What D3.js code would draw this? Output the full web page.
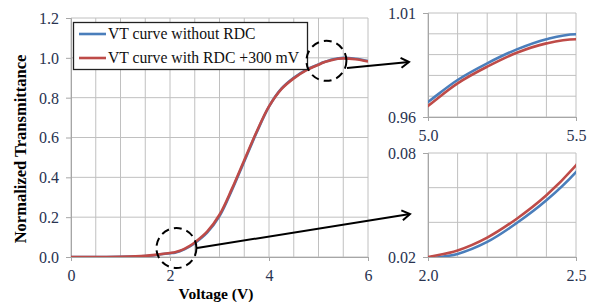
<!DOCTYPE html>
<html>
<head>
<meta charset="utf-8">
<script src="https://cdn.jsdelivr.net/npm/d3@7"></script>
<style>
  body { margin: 0; background: #fff; }
  svg { display: block; }
  .grid line { stroke: #c0c0c0; stroke-width: 1; }
</style>
</head>
<body>
<div id="chart"></div>
<script>
// values
const voltage = [0, 0.5, 1.0, 1.5, 1.75, 2.0, 2.1, 2.2, 2.3, 2.4, 2.5, 2.75, 3.0, 3.25, 3.5, 3.75, 4.0, 4.25, 4.5, 4.75, 5.0, 5.1, 5.2, 5.3, 5.4, 5.5, 5.75, 6.0]
const withoutRDC = [0, 0, 0.001, 0.005, 0.011, 0.019, 0.0218, 0.0287, 0.0396, 0.0527, 0.069, 0.122, 0.205, 0.335, 0.48, 0.625, 0.755, 0.845, 0.9, 0.94, 0.9672, 0.9778, 0.9858, 0.9925, 0.9974, 0.9998, 0.995, 0.984]
const withRDC = [0, 0, 0.001, 0.0055, 0.012, 0.02, 0.0238, 0.0312, 0.0421, 0.0556, 0.0729, 0.127, 0.212, 0.342, 0.486, 0.629, 0.756, 0.843, 0.897, 0.937, 0.9653, 0.9762, 0.9842, 0.9909, 0.9954, 0.9974, 0.993, 0.982]
const seriesNames = ['VT curve without RDC', 'VT curve with RDC +300 mV']
const seriesColors = ['#4a7ebb', '#be4b48']

const mainXTicks = [0, 2, 4, 6]
const mainYTicks = [0, 0.2, 0.4, 0.6, 0.8, 1.0, 1.2]
const topXTicks = [5.0, 5.5]
const topYTicks = [0.96, 1.01]
const botXTicks = [2.0, 2.5]
const botYTicks = [0.02, 0.08]

const width = 589
const height = 302
const serif = 'Liberation Serif'

const svg = d3.select('#chart').append('svg')
  .attr('width', width)
  .attr('height', height)

const defs = svg.append('defs')
defs.append('marker')
  .attr('id', 'head')
  .attr('viewBox', '0 0 12 12')
  .attr('refX', 10).attr('refY', 6)
  .attr('markerWidth', 12).attr('markerHeight', 12)
  .attr('markerUnits', 'userSpaceOnUse')
  .attr('orient', 'auto')
  .append('path')
  .attr('d', 'M2,1 L10,6 L2,11')
  .attr('fill', 'none')
  .attr('stroke', '#000')
  .attr('stroke-width', 2)

const rows = voltage.map((v, i) => ({ v: v, a: withoutRDC[i], b: withRDC[i] }))

// draws one panel (main chart or inset)
function panel(id, xDomain, yDomain, box, xTicks, yTicks, xGrid, yGrid, fmtX, fmtY) {
  const x = d3.scaleLinear().domain(xDomain).range([box.left, box.right])
  const y = d3.scaleLinear().domain(yDomain).range([box.bottom, box.top])
  const g = svg.append('g')

  defs.append('clipPath').attr('id', id)
    .append('rect')
    .attr('x', box.left).attr('y', box.top - 2)
    .attr('width', box.right - box.left).attr('height', box.bottom - box.top + 2)

  const grid = g.append('g').attr('class', 'grid')
  grid.selectAll('.vx').data(xGrid).enter().append('line')
    .attr('x1', d => x(d)).attr('x2', d => x(d))
    .attr('y1', box.top).attr('y2', box.bottom)
  grid.selectAll('.hy').data(yGrid).enter().append('line')
    .attr('x1', box.left).attr('x2', box.right)
    .attr('y1', d => y(d)).attr('y2', d => y(d))

  const xAxis = g.append('g')
    .attr('transform', 'translate(0,' + box.bottom + ')')
    .call(d3.axisBottom(x).tickValues(xTicks).tickFormat(fmtX).tickSize(4).tickPadding(6))
  const yAxis = g.append('g')
    .attr('transform', 'translate(' + box.left + ',0)')
    .call(d3.axisLeft(y).tickValues(yTicks).tickFormat(fmtY).tickSize(5).tickPadding(7))
  ;[xAxis, yAxis].forEach(a => {
    a.attr('font-family', serif).attr('font-size', 16)
    a.select('.domain').attr('stroke', '#a6a6a6')
    a.selectAll('.tick line').attr('stroke', '#a6a6a6')
    a.selectAll('.tick text').attr('fill', '#283350')
  })
  xAxis.selectAll('.tick text').attr('dy', '0.9em')
  yAxis.selectAll('.tick text').attr('dy', '0.34em')

  const curves = g.append('g').attr('clip-path', 'url(#' + id + ')')
  ;['a', 'b'].forEach((k, i) => {
    curves.append('path')
      .datum(rows)
      .attr('fill', 'none')
      .attr('stroke', seriesColors[i])
      .attr('stroke-width', 2.6)
      .attr('d', d3.line().x(d => x(d.v)).y(d => y(d[k])).curve(d3.curveCatmullRom.alpha(0.5)))
  })
  return { x: x, y: y }
}

const main = panel('clipMain', [0, 6], [0, 1.2], { left: 71, right: 368, top: 18, bottom: 257 },
  mainXTicks, mainYTicks, d3.range(0, 6.01, 0.5), mainYTicks, d3.format('d'), d3.format('.1f'))

panel('clipTop', [5.0, 5.5], [0.96, 1.01], { left: 428, right: 576, top: 13, bottom: 117 },
  topXTicks, topYTicks, d3.range(5.0, 5.51, 0.1), d3.range(0.96, 1.0101, 0.01), d3.format('.1f'), d3.format('.2f'))

panel('clipBot', [2.0, 2.5], [0.02, 0.08], { left: 428, right: 576, top: 153, bottom: 257 },
  botXTicks, botYTicks, d3.range(2.0, 2.51, 0.1), d3.range(0.02, 0.0801, 0.02), d3.format('.1f'), d3.format('.2f'))

// legend
const legend = svg.append('g')
legend.append('rect')
  .attr('x', 73.5).attr('y', 22.5).attr('width', 234).attr('height', 47)
  .attr('fill', '#fff').attr('stroke', '#222').attr('stroke-width', 1.3)
seriesNames.forEach((name, i) => {
  const yy = 34 + i * 24
  legend.append('line')
    .attr('x1', 79).attr('x2', 106).attr('y1', yy).attr('y2', yy)
    .attr('stroke', seriesColors[i]).attr('stroke-width', 2.6)
  legend.append('text')
    .attr('x', 108).attr('y', yy + 5)
    .attr('font-family', serif)
    .attr('font-size', 15.7)
    .attr('fill', '#111')
    .text(name)
})

// axis titles
svg.append('text')
  .attr('transform', 'translate(26,149) rotate(-90)')
  .attr('text-anchor', 'middle')
  .attr('font-family', serif)
  .attr('font-size', 16.5).attr('font-weight', 'bold')
  .text('Normalized Transmittance')

svg.append('text')
  .attr('x', 216).attr('y', 299)
  .attr('text-anchor', 'middle')
  .attr('font-family', serif)
  .attr('font-size', 15.5).attr('font-weight', 'bold')
  .text('Voltage (V)')

// dashed zoom circles and arrows
const zooms = [
  { v: 5.16, t: 0.985, from: [347, 68], to: [409, 62] },
  { v: 2.13, t: 0.045, from: [197, 248], to: [410, 214] }
]
zooms.forEach(z => {
  svg.append('circle')
    .attr('cx', main.x(z.v)).attr('cy', main.y(z.t)).attr('r', 20)
    .attr('fill', 'none').attr('stroke', '#000')
    .attr('stroke-width', 2).attr('stroke-dasharray', '8,5')
  svg.append('line')
    .attr('x1', z.from[0]).attr('y1', z.from[1])
    .attr('x2', z.to[0]).attr('y2', z.to[1])
    .attr('stroke', '#000').attr('stroke-width', 2)
    .attr('marker-end', 'url(#head)')
})
</script>
</body>
</html>
